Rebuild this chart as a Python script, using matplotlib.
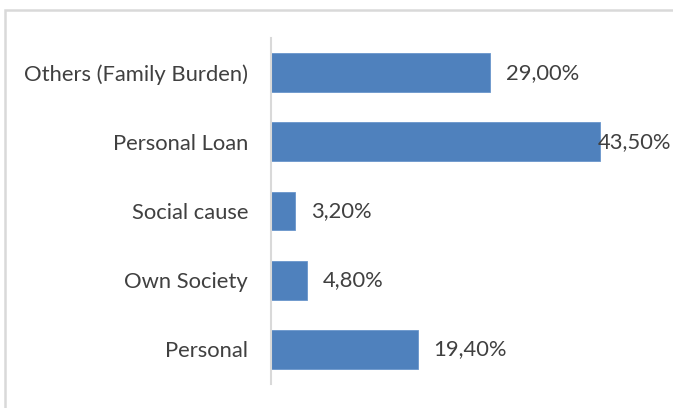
import matplotlib
matplotlib.use("Agg")
import matplotlib.pyplot as plt
from matplotlib.patches import Rectangle

categories = ["Personal", "Own Society", "Social cause", "Personal Loan", "Others (Family Burden)"]
values = [19.4, 4.8, 3.2, 43.5, 29.0]
value_labels = ["19,40%", "4,80%", "3,20%", "43,50%", "29,00%"]

W, H = 673, 408
fig = plt.figure(figsize=(W / 100, H / 100), dpi=100)
plt.rcParams['font.family'] = ['Lato', 'DejaVu Sans']
FS = 15.8
TXT = '#404040'

# outer chart frame (cut off on right and bottom)
fig.patches.append(Rectangle((4.5 / W, -0.05), 1.2, (H - 9.5) / H + 0.05,
                             transform=fig.transFigure, fill=False,
                             edgecolor='#d9d9d9', linewidth=1.8))

ax = fig.add_axes([271 / W, 24 / H, (649 - 271) / W, (384 - 38) / H])
ypos = list(range(len(categories)))
ax.barh(ypos, values, height=0.56, color='#4f81bd', edgecolor='#6a96cc', linewidth=0.6)
ax.set_xlim(0, 50)
ax.set_ylim(-0.5, len(categories) - 0.5)
ax.set_yticks(ypos)
ax.set_yticklabels(categories, fontsize=FS, color=TXT)
ax.tick_params(axis='y', length=0, pad=16.5)
ax.set_xticks([])
for s in ['top', 'right', 'bottom']:
    ax.spines[s].set_visible(False)
ax.spines['left'].set_color('#d9d9d9')
ax.spines['left'].set_linewidth(1.5)

xmax_label = 43.2
for y, v, lab in zip(ypos, values, value_labels):
    x = min(v + 2.1, xmax_label)
    ax.text(x, y, lab, va='center', ha='left', fontsize=FS, color=TXT)

fig.savefig("out.png", dpi=100)
